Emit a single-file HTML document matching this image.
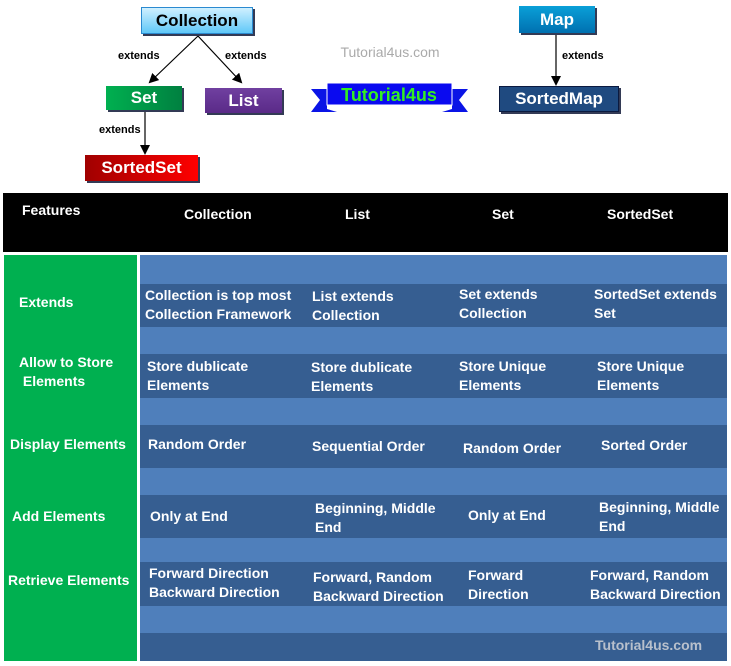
<!DOCTYPE html>
<html><head><meta charset="utf-8"><style>
*{margin:0;padding:0;box-sizing:border-box}
body{width:731px;height:666px;background:#fff;position:relative;overflow:hidden;font-family:"Liberation Sans",sans-serif;font-weight:bold}
.a{position:absolute}
.t{position:absolute;color:#fff;font-size:14px;line-height:19px;white-space:nowrap;letter-spacing:0}
.box{position:absolute;display:flex;align-items:center;justify-content:center;font-size:17px;box-shadow:2px 2px 0 #333a55}
.lbl{position:absolute;font-size:11px;color:#000;font-weight:bold}
</style></head><body>
<svg class="a" style="left:0;top:0" width="731" height="190">
<defs><marker id="ar" markerWidth="10" markerHeight="10" refX="8" refY="5" orient="auto" markerUnits="userSpaceOnUse"><path d="M0,0 L10,5 L0,10 Z" fill="#000"/></marker></defs>
<line x1="198" y1="36" x2="150" y2="82" stroke="#000" stroke-width="1.2" marker-end="url(#ar)"/>
<line x1="198" y1="36" x2="241" y2="82" stroke="#000" stroke-width="1.2" marker-end="url(#ar)"/>
<line x1="145" y1="112" x2="145" y2="153" stroke="#000" stroke-width="1.2" marker-end="url(#ar)"/>
<line x1="556" y1="35" x2="556" y2="84" stroke="#000" stroke-width="1.2" marker-end="url(#ar)"/>
<polygon points="311,89 327,89 327,109 337,112 311,112 320,100" fill="#0a14e6"/>
<polygon points="468,89 452,89 452,109 442,112 468,112 459,100" fill="#0a14e6"/>
<rect x="327" y="83" width="125" height="22" fill="#0a0af0" stroke="#fff" stroke-width="1"/>
<text x="389" y="101" text-anchor="middle" font-family="Liberation Sans" font-weight="bold" font-size="18" fill="#33ee22">Tutorial4us</text>
<text x="390" y="57" text-anchor="middle" font-family="Liberation Sans" font-weight="normal" font-size="14" fill="#aaa">Tutorial4us.com</text>
</svg>
<div class="box" style="left:141px;top:7px;width:112px;height:27px;background:linear-gradient(#d0f0ff,#60c8f8);border:1px solid #2a8ad0;color:#000">Collection</div>
<div class="box" style="left:106px;top:86px;width:76px;height:24px;background:linear-gradient(90deg,#00b050,#008040);color:#fff">Set</div>
<div class="box" style="left:205px;top:88px;width:77px;height:25px;background:linear-gradient(#7040a0,#5a2a88);color:#fff">List</div>
<div class="box" style="left:85px;top:155px;width:113px;height:26px;background:linear-gradient(90deg,#a00000,#ff0000);color:#fff">SortedSet</div>
<div class="box" style="left:519px;top:6px;width:76px;height:27px;background:linear-gradient(#0aa0d8,#0070b0);color:#fff">Map</div>
<div class="box" style="left:499px;top:86px;width:120px;height:26px;background:#1f4a80;border:1px solid #0a1a40;color:#fff">SortedMap</div>
<div class="lbl" style="left:118px;top:50px">extends</div>
<div class="lbl" style="left:225px;top:50px">extends</div>
<div class="lbl" style="left:99px;top:124px">extends</div>
<div class="lbl" style="left:562px;top:50px">extends</div>

<div class="a" style="left:3px;top:193px;width:725px;height:59px;background:#000"></div>
<div class="t" style="left:22px;top:201px">Features</div>
<div class="t" style="left:184px;top:205px">Collection</div>
<div class="t" style="left:345px;top:205px">List</div>
<div class="t" style="left:492px;top:205px">Set</div>
<div class="t" style="left:607px;top:205px">SortedSet</div>

<div class="a" style="left:4px;top:255px;width:133px;height:406px;background:#00b050"></div>
<div class="a" style="left:140px;top:255px;width:587px;height:406px;background:#4f7fbb"></div>
<div class="a" style="left:140px;top:284px;width:587px;height:43px;background:#365e91"></div>
<div class="a" style="left:140px;top:354px;width:587px;height:44px;background:#365e91"></div>
<div class="a" style="left:140px;top:425px;width:587px;height:43px;background:#365e91"></div>
<div class="a" style="left:140px;top:495px;width:587px;height:43px;background:#365e91"></div>
<div class="a" style="left:140px;top:562px;width:587px;height:44px;background:#365e91"></div>
<div class="a" style="left:140px;top:633px;width:587px;height:28px;background:#365e91"></div>

<div class="t" style="left:19px;top:293px">Extends</div>
<div class="t" style="left:19px;top:353px">Allow to Store<br>&nbsp;Elements</div>
<div class="t" style="left:10px;top:435px">Display Elements</div>
<div class="t" style="left:12px;top:507px">Add Elements</div>
<div class="t" style="left:8px;top:571px">Retrieve Elements</div>

<div class="t" style="left:145px;top:286px">Collection is top most<br>Collection Framework</div>
<div class="t" style="left:312px;top:287px">List extends<br>Collection</div>
<div class="t" style="left:459px;top:285px">Set extends<br>Collection</div>
<div class="t" style="left:594px;top:285px">SortedSet extends<br>Set</div>

<div class="t" style="left:147px;top:357px">Store dublicate<br>Elements</div>
<div class="t" style="left:311px;top:358px">Store dublicate<br>Elements</div>
<div class="t" style="left:459px;top:357px">Store Unique<br>Elements</div>
<div class="t" style="left:597px;top:357px">Store Unique<br>Elements</div>

<div class="t" style="left:148px;top:435px">Random Order</div>
<div class="t" style="left:312px;top:437px">Sequential Order</div>
<div class="t" style="left:463px;top:439px">Random Order</div>
<div class="t" style="left:601px;top:436px">Sorted Order</div>

<div class="t" style="left:150px;top:507px">Only at End</div>
<div class="t" style="left:315px;top:499px">Beginning, Middle<br>End</div>
<div class="t" style="left:468px;top:506px">Only at End</div>
<div class="t" style="left:599px;top:498px">Beginning, Middle<br>End</div>

<div class="t" style="left:149px;top:564px">Forward Direction<br>Backward Direction</div>
<div class="t" style="left:313px;top:568px">Forward, Random<br>Backward Direction</div>
<div class="t" style="left:468px;top:566px">Forward<br>Direction</div>
<div class="t" style="left:590px;top:566px">Forward, Random<br>Backward Direction</div>

<div class="t" style="left:595px;top:636px;color:#b8c0cc">Tutorial4us.com</div>
</body></html>
